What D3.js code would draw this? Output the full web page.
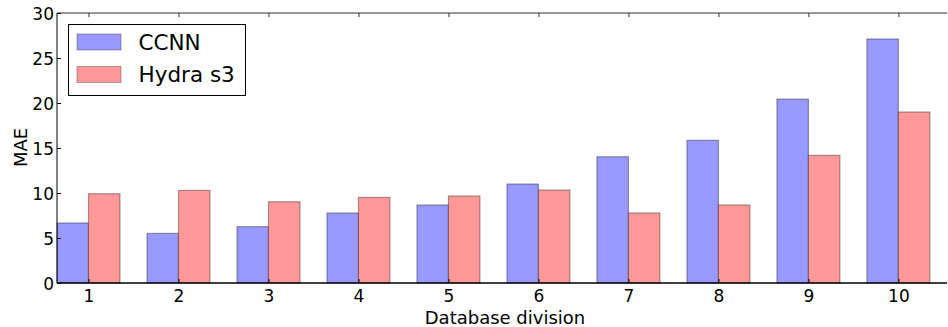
<!DOCTYPE html>
<html>
<head>
<meta charset="utf-8">
<script src="https://cdn.jsdelivr.net/npm/d3@7/dist/d3.min.js"></script>
<style>
  body { margin: 0; background: #fff; }
  svg text { font-family: "DejaVu Sans", sans-serif; fill: #000; }
</style>
</head>
<body>
<div id="chart"></div>
<script>
// values
var divisions = [1, 2, 3, 4, 5, 6, 7, 8, 9, 10];
var ccnn = [6.67, 5.51, 6.26, 7.78, 8.67, 11.0, 14.03, 15.85, 20.44, 27.11];
var hydra = [9.92, 10.29, 9.03, 9.51, 9.67, 10.33, 7.78, 8.67, 14.18, 19.0];
var yTicks = [0, 5, 10, 15, 20, 25, 30];
var seriesNames = ["CCNN", "Hydra s3"];

var width = 948, height = 327;
var margin = {top: 13, right: 1, bottom: 44, left: 57};
var barW = 0.35;

var svg = d3.select("#chart").append("svg")
    .attr("width", width)
    .attr("height", height);

var x = d3.scaleLinear()
    .domain([1 - barW, 10.54])
    .range([margin.left, width - margin.right]);

var y = d3.scaleLinear()
    .domain([0, 30])
    .range([height - margin.bottom, margin.top]);

var series = [
    {name: seriesNames[0], values: ccnn, fill: "#9999ff", offset: -barW},
    {name: seriesNames[1], values: hydra, fill: "#ff9999", offset: 0}
];

var bars = svg.append("g");
series.forEach(function (s) {
    bars.selectAll(null)
        .data(divisions)
        .enter().append("rect")
        .attr("x", (d) => x(d + s.offset))
        .attr("y", (d, i) => y(s.values[i]))
        .attr("width", x(barW) - x(0))
        .attr("height", (d, i) => y(0) - y(s.values[i]))
        .attr("fill", s.fill)
        .attr("stroke", "rgba(0,0,0,0.35)")
        .attr("stroke-width", 1.2);
});

// spines
var x0 = margin.left, x1 = width - margin.right, yb = y(0), yt = y(30);
svg.append("line").attr("x1", x0).attr("x2", x0).attr("y1", yt).attr("y2", yb)
    .attr("stroke", "#000").attr("stroke-width", 1);
svg.append("line").attr("x1", x0).attr("x2", x1).attr("y1", yt).attr("y2", yt)
    .attr("stroke", "#333").attr("stroke-width", 1);
svg.append("line").attr("x1", x0).attr("x2", x1).attr("y1", yb).attr("y2", yb)
    .attr("stroke", "#000").attr("stroke-width", 1.3);

// inward ticks, top and bottom
var xAxisB = d3.axisBottom(x).tickValues(divisions).tickSize(-4).tickPadding(10).tickFormat(d3.format("d"));
var gxb = svg.append("g").attr("transform", "translate(0," + yb + ")").call(xAxisB);
gxb.select(".domain").remove();
gxb.selectAll("text").attr("font-size", 17).attr("dy", "0.71em").attr("y", 7);

var xAxisT = d3.axisTop(x).tickValues(divisions).tickSize(-4).tickFormat("");
var gxt = svg.append("g").attr("transform", "translate(0," + yt + ")").call(xAxisT);
gxt.select(".domain").remove();
gxt.selectAll("line").attr("stroke", "#333");

var yAxis = d3.axisLeft(y).tickValues(yTicks).tickSize(-4).tickPadding(3);
var gy = svg.append("g").attr("transform", "translate(" + x0 + ",0)").call(yAxis);
gy.select(".domain").remove();
gy.selectAll("text").attr("font-size", 17).attr("dy", "0.36em");

// axis labels
svg.append("text")
    .attr("x", (x0 + x1) / 2 + 3)
    .attr("y", 323.5)
    .attr("text-anchor", "middle")
    .attr("font-size", 18)
    .text("Database division");

svg.append("text")
    .attr("transform", "translate(26.5," + ((yt + yb) / 2 - 0.5) + ") rotate(-90)")
    .attr("text-anchor", "middle")
    .attr("font-size", 18)
    .text("MAE");

// legend
var legend = svg.append("g");
legend.append("rect")
    .attr("x", 68.5).attr("y", 24.5).attr("width", 177).attr("height", 71)
    .attr("fill", "#fff").attr("stroke", "#000").attr("stroke-width", 1);
series.forEach(function (s, i) {
    legend.append("rect")
        .attr("x", 77).attr("y", 34 + i * 32.5).attr("width", 44).attr("height", 16)
        .attr("fill", s.fill).attr("stroke", "rgba(0,0,0,0.3)");
    legend.append("text")
        .attr("x", 138.5).attr("y", 50 + i * 31.7)
        .attr("font-size", 21.5)
        .text(s.name);
});
</script>
</body>
</html>
